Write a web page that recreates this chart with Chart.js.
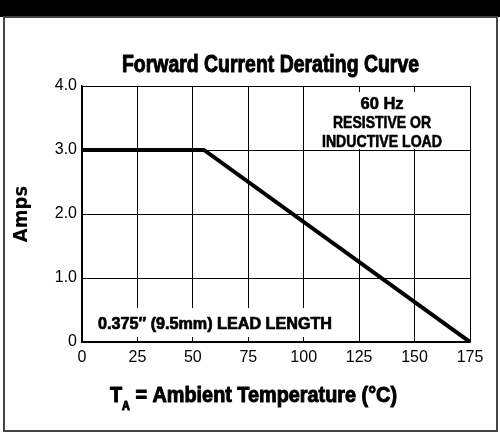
<!DOCTYPE html>
<html lang="en">

<head>
    <meta charset="UTF-8">
    <script src="https://cdn.jsdelivr.net/npm/chart.js@4.4.1/dist/chart.umd.min.js"></script>
    <title>Forward Current Derating Curve</title>
    <style>
        html, body { margin: 0; padding: 0; background: #fff; }
        #wrap { width: 500px; height: 433px; position: relative; }
    </style>
</head>

<body>
    <div id="wrap"><canvas id="chart"></canvas></div>

    <script>
        // derating curve
        const tempC = [0, 55, 175]
        const amps = [3.0, 3.0, 0]
        const xTicks = [0, 25, 50, 75, 100, 125, 150, 175]
        const yTicks = [0, 1, 2, 3, 4]

        const titleText = 'Forward Current Derating Curve'
        const yTitle = 'Amps'
        const loadNote = ['60 Hz', 'RESISTIVE OR', 'INDUCTIVE LOAD']
        const leadNote = '0.375\u2033 (9.5mm) LEAD LENGTH'

        const bold = '"Liberation Sans", Arial, sans-serif'
        const plain = '"Liberation Sans", Arial, sans-serif'

        // the datasheet uses a heavy condensed helvetica: squeeze the text and thicken it a bit
        function squeezed(c, parts, x, y, width, align, heavy) {
            let total = 0
            parts.forEach(p => { c.font = p.font; total += c.measureText(p.text).width })
            const k = width / total
            let x0 = align === 'center' ? x - width / 2 : x
            c.save()
            c.translate(x0, y)
            c.scale(k, 1)
            c.textAlign = 'left'
            c.textBaseline = 'alphabetic'
            c.strokeStyle = c.fillStyle
            c.lineWidth = heavy || 0.8
            c.lineJoin = 'round'
            let px = 0
            parts.forEach(p => {
                c.font = p.font
                c.fillText(p.text, px, p.dy || 0)
                c.strokeText(p.text, px, p.dy || 0)
                px += c.measureText(p.text).width
            })
            c.restore()
        }

        const decor = {
            id: 'decor',
            beforeDraw(chart) {
                const c = chart.ctx
                c.save()
                c.fillStyle = '#fff'
                c.fillRect(0, 0, chart.width, chart.height)
                c.fillStyle = '#000'
                c.fillRect(0, 0, chart.width, 17)
                c.strokeStyle = '#444'
                c.lineWidth = 2
                c.strokeRect(4, 17, chart.width - 7, chart.height - 19)
                c.restore()
            },
            beforeDatasetsDraw(chart) {
                const c = chart.ctx
                const x = chart.scales.x, y = chart.scales.y
                c.save()
                // white boxes behind the notes, covering the grid
                c.fillStyle = '#fff'
                let l = x.getPixelForValue(100) + 1, r = x.getPixelForValue(175) - 1
                let t = y.getPixelForValue(4) + 6, b = y.getPixelForValue(3) - 1
                c.fillRect(l, t, r - l, b - t)
                c.fillStyle = '#000'
                const noteW = [43, 98, 120]
                loadNote.forEach((s, i) => squeezed(c, [{ text: s, font: 'bold 17px ' + bold }], 382, 109 + i * 19, noteW[i], 'center', 0.6))

                c.fillStyle = '#fff'
                l = x.getPixelForValue(0) + 1
                r = x.getPixelForValue(125) - 1
                t = y.getPixelForValue(0.53)
                b = y.getPixelForValue(0) - 5
                c.fillRect(l, t, r - l, b - t)
                c.fillStyle = '#000'
                squeezed(c, [{ text: leadNote, font: 'bold 16px ' + bold }], 98, 329, 234, 'left', 0.7)
                c.restore()
            },
            afterDraw(chart) {
                const c = chart.ctx
                c.save()
                c.fillStyle = '#000'
                squeezed(c, [{ text: titleText, font: 'bold 24px ' + bold }], 122, 72, 297, 'left', 1)

                // T_A = Ambient Temperature (°C)
                squeezed(c, [
                    { text: 'T', font: 'bold 22px ' + bold },
                    { text: 'A', font: 'bold 12px ' + bold, dy: 8 },
                    { text: ' = Ambient Temperature (\u00B0C)', font: 'bold 22px ' + bold }
                ], 110, 402, 287, 'left', 1)
                c.restore()
            }
        }

        const ctx = document.getElementById('chart').getContext('2d')
        const myChart = new Chart(ctx, {
            type: 'line',
            data: {
                datasets: [{
                    data: tempC.map((t, i) => ({ x: t, y: amps[i] })),
                    borderColor: '#000',
                    borderWidth: 4,
                    pointRadius: 0,
                    tension: 0,
                    fill: false
                }]
            },
            options: {
                responsive: true,
                maintainAspectRatio: false,
                animation: false,
                layout: { padding: { left: 8, right: 30, top: 86, bottom: 0 } },
                plugins: {
                    legend: { display: false },
                    tooltip: { enabled: false }
                },
                scales: {
                    x: {
                        type: 'linear',
                        min: 0,
                        max: 175,
                        afterBuildTicks: s => { s.ticks = xTicks.map(v => ({ value: v })) },
                        afterFit: s => { s.height = 91 },
                        grid: { color: '#000', lineWidth: 1, drawTicks: false },
                        border: { color: '#000', width: 1.5 },
                        ticks: { color: '#000', padding: 6, font: { family: plain, size: 16 }, maxRotation: 0 }
                    },
                    y: {
                        min: 0,
                        max: 4,
                        afterBuildTicks: s => { s.ticks = yTicks.map(v => ({ value: v })) },
                        afterFit: s => { s.width = 74 },
                        grid: { color: '#000', lineWidth: 1, drawTicks: false },
                        border: { color: '#000', width: 1.5 },
                        ticks: {
                            color: '#000', padding: 5, font: { family: plain, size: 16 },
                            callback: v => v === 0 ? '0' : v.toFixed(1)
                        },
                        title: {
                            display: true, text: yTitle, color: '#000',
                            font: { family: '"DejaVu Sans Condensed", sans-serif', size: 20, weight: 'bold' },
                            padding: { top: 2, bottom: 0 }
                        }
                    }
                }
            },
            plugins: [decor]
        })
    </script>
</body>

</html>
